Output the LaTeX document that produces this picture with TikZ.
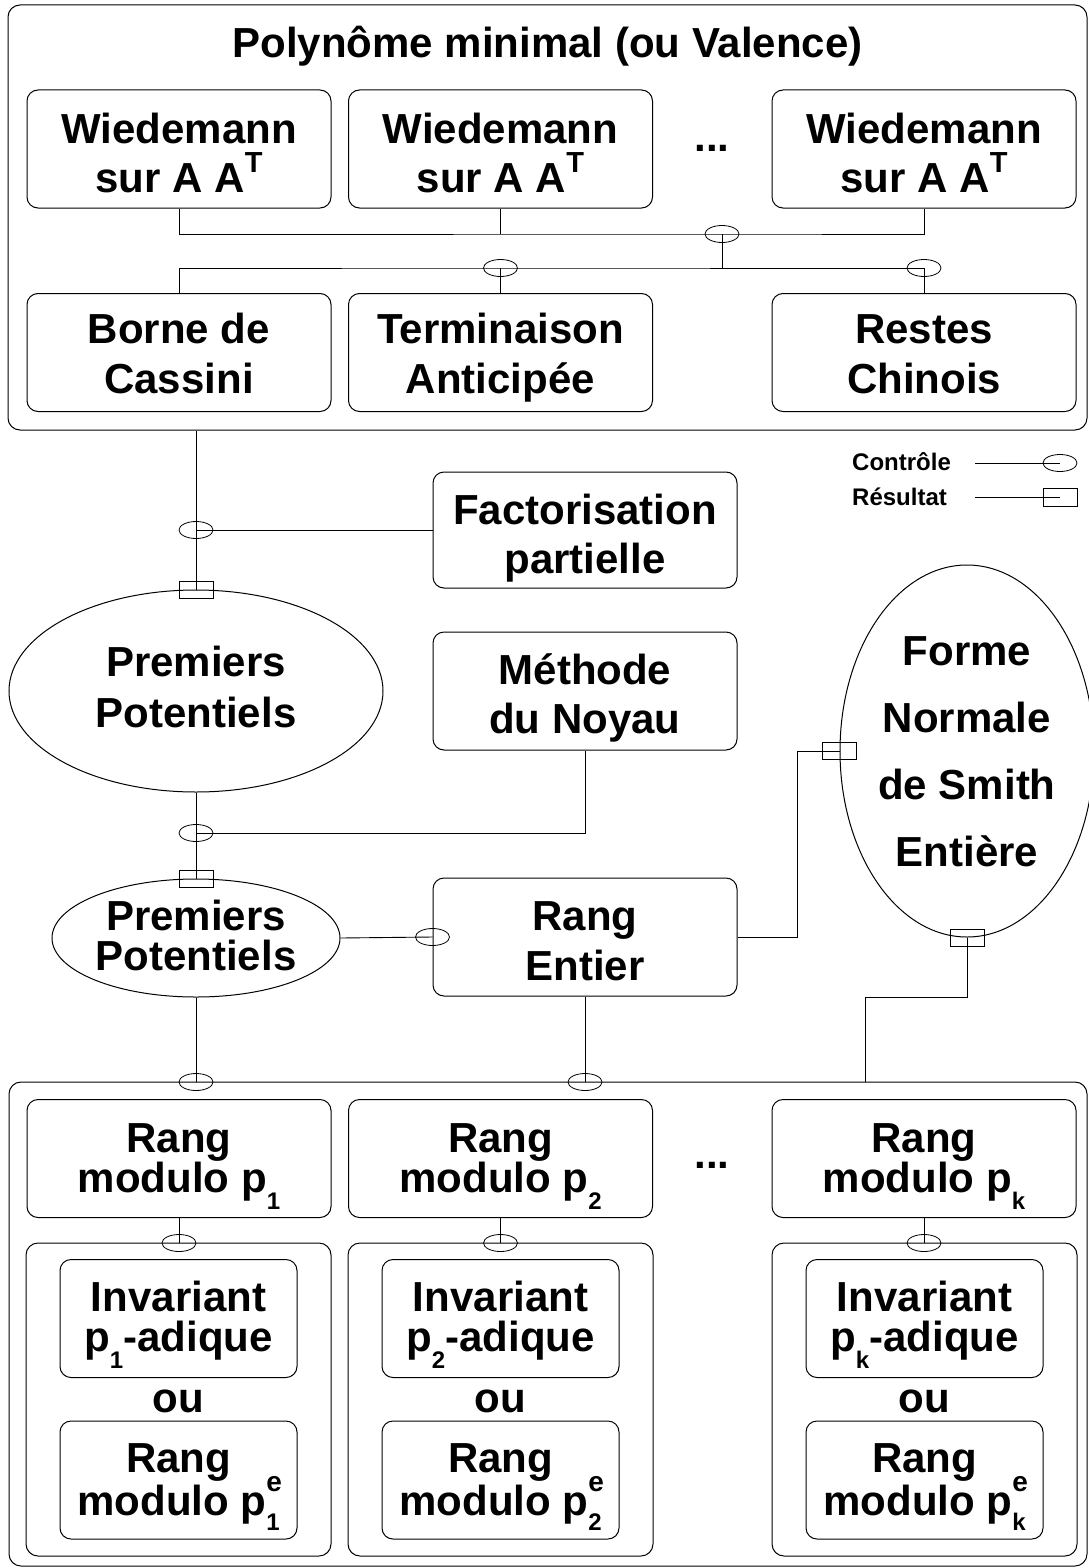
\documentclass[tikz,border=0pt]{standalone}
\usepackage{fontspec}
\setmainfont{Liberation Sans}
\usetikzlibrary{shapes.geometric}
\newcommand\topst{\rule{0pt}{45pt}}
\newcommand\botst{\rule[-45pt]{0pt}{45pt}}
\newcommand\subl[1]{\raisebox{-17pt}{\fontsize{24pt}{24pt}\selectfont #1}}
\newcommand\supT[1]{\raisebox{20pt}{\fontsize{29pt}{29pt}\selectfont #1}}
\newcommand\supsub[2]{\rlap{\raisebox{24pt}{\fontsize{28pt}{28pt}\selectfont #1}}\raisebox{-15pt}{\fontsize{24pt}{24pt}\selectfont #2}}
\newcommand\labfont[1]{\bfseries\fontsize{42pt}{#1pt}\selectfont\lineskiplimit=-200pt\relax}
\tikzset{
  cont/.style={draw, rounded corners=12pt, line width=1pt, inner sep=0pt},
  box/.style={draw, rounded corners=11pt, line width=1pt, inner sep=0pt, minimum width=304pt, minimum height=118pt},
  ibox/.style={box, minimum width=237pt, minimum height=118pt},
  oval/.style={draw, ellipse, line width=1pt, inner sep=0pt},
  ctrl/.style={draw, ellipse, minimum width=34pt, minimum height=17pt, inner sep=0pt, line width=0.8pt},
  res/.style={draw, rectangle, minimum width=34pt, minimum height=17pt, inner sep=0pt, line width=0.8pt},
  lab/.style={inner sep=0pt, align=center, font=\labfont{#1}},
  leg/.style={inner sep=0pt, anchor=base west, font=\bfseries\fontsize{24pt}{28pt}\selectfont},
  conn/.style={line width=0.9pt}
}
\begin{document}
\begin{tikzpicture}[x=1pt,y=-1pt]
\useasboundingbox (0,0) rectangle (1089,1568);

% containers
\node[cont, minimum width=1079pt, minimum height=425pt] (topc) at (547.5,217.5) {};
\node[cont, minimum width=1078pt, minimum height=484pt] (botc) at (548,1324) {};
\node[cont, minimum width=305pt, minimum height=313pt] (ic1) at (178.5,1399.5) {};
\node[cont, minimum width=305pt, minimum height=313pt] (ic2) at (500.5,1399.5) {};
\node[cont, minimum width=305pt, minimum height=313pt] (ic3) at (924.5,1399.5) {};

% title
\node[lab=42, anchor=base] (title) at (547.5,58) {Polynôme minimal (ou Valence)};

% Wiedemann row
\node[box] (w1) at (179,149) {};
\node[box] (w2) at (500.5,149) {};
\node[box] (w3) at (924,149) {};
\node[lab=49] (w1t) at (179,167.5) {\topst Wiedemann\\sur A A\supT{T}\botst};
\node[lab=49] (w2t) at (500.5,167.5) {\topst Wiedemann\\sur A A\supT{T}\botst};
\node[lab=49] (w3t) at (924,167.5) {\topst Wiedemann\\sur A A\supT{T}\botst};
\node[lab=42, anchor=base] (d1) at (712,151) {...};

% second row
\node[box] (b1) at (179,352.5) {};
\node[box] (b2) at (500.5,352.5) {};
\node[box] (b3) at (924,352.5) {};
\node[lab=50] (b1t) at (179,368) {\topst Borne de\\Cassini\botst};
\node[lab=50] (b2t) at (500.5,368) {\topst Terminaison\\Anticipée\botst};
\node[lab=50] (b3t) at (924,368) {\topst Restes\\Chinois\botst};

% top connectors
\node[ctrl] (c1) at (722,234) {};
\node[ctrl] (c2) at (500.5,268) {};
\node[ctrl] (c3) at (924,268) {};
\draw[conn] (w1.south) |- (c1.center) -| (w3.south);
\draw[conn] (w2.south) -- (w2.south |- c1.center);
\draw[conn] (c1.center) -- (c1.center |- c2.center);
\draw[conn] (b1.north) |- (c2.center) -- (c3.center) -- (b3.north);
\draw[conn] (c2.center) -- (b2.north);

% legend
\node[leg] (lgc) at (852,470) {Contrôle};
\node[leg] (lgr) at (852,505) {Résultat};
\node[ctrl] (lc) at (1060,463) {};
\node[res, minimum height=18pt] (lr) at (1060,497) {};
\coordinate (lc0) at (975,463);
\coordinate (lr0) at (975,497);
\draw[conn] (lc0) -- (lc.center);
\draw[conn] (lr0) -- (lr.center);

% middle
\node[box, minimum height=116pt] (fac) at (585,530) {};
\node[lab=49] (fact) at (585,548.5) {\topst Factorisation\\partielle\botst};
\node[oval, minimum width=374pt, minimum height=202pt] (pp1) at (196,691) {};
\node[lab=51] (pp1t) at (196,701.5) {\topst Premiers\\Potentiels\botst};
\node[box] (meth) at (585,691) {};
\node[lab=49] (metht) at (585,708.5) {\topst Méthode\\du Noyau\botst};
\node[oval, minimum width=288pt, minimum height=118pt] (pp2) at (196,938) {};
\node[lab=40] (pp2t) at (196,950) {\topst Premiers\\Potentiels\botst};
\node[box] (re) at (585,937) {};
\node[lab=50] (ret) at (585,955) {\topst Rang\\Entier\botst};
\node[oval, minimum width=254pt, minimum height=372pt] (fn) at (967,751) {};
\node[lab=67] (fnt) at (967,766) {\topst Forme\\Normale\\de Smith\\Entière\botst};

\node[ctrl] (c4) at (196,530) {};
\node[ctrl] (c5) at (196,833) {};
\node[ctrl] (c6) at (re.west) {};
\node[res] (r1) at (pp1.north) {};
\node[res] (r2) at (pp2.north) {};
\node[res] (r3) at (fn.west) {};
\node[res] (r4) at (fn.south) {};
\coordinate (k2) at (865,1082);

\draw[conn] (topc.south -| pp1.north) -- (pp1.north);
\draw[conn] (c4.center) -- (fac.west);
\draw[conn] (meth.south) |- (c5.center);
\draw[conn] (pp1.south) -- (pp2.north);
\draw[conn] (pp2.east) -- (re.west);
\draw[conn] (re.east) -- ++(60,0) |- (fn.west);
\draw[conn] (fn.south) -- ++(0,60) -| (k2);

% bottom
\node[ctrl] (c7) at (196,1082) {};
\node[ctrl] (c8) at (585,1082) {};
\draw[conn] (pp2.south) -- (c7.center);
\draw[conn] (re.south) -- (c8.center);

\node[box] (rm1) at (179,1158.5) {};
\node[box] (rm2) at (500.5,1158.5) {};
\node[box] (rm3) at (924,1158.5) {};
\node[lab=40] (rm1t) at (179,1172) {\topst Rang\\modulo p\subl{1}\botst};
\node[lab=40] (rm2t) at (500.5,1172) {\topst Rang\\modulo p\subl{2}\botst};
\node[lab=40] (rm3t) at (924,1172) {\topst Rang\\modulo p\subl{k}\botst};
\node[lab=42, anchor=base] (d2) at (712,1168) {...};

\node[ctrl] (c9) at (179,1243) {};
\node[ctrl] (c10) at (500.5,1243) {};
\node[ctrl] (c11) at (924,1243) {};
\draw[conn] (rm1.south) -- (c9.center);
\draw[conn] (rm2.south) -- (c10.center);
\draw[conn] (rm3.south) -- (c11.center);

\node[ibox] (iv1) at (178.5,1318.5) {};
\node[ibox] (iv2) at (500.5,1318.5) {};
\node[ibox] (iv3) at (924.5,1318.5) {};
\node[lab=40] (iv1t) at (178.5,1331.5) {\topst Invariant\\p\subl{1}-adique\botst};
\node[lab=40] (iv2t) at (500.5,1331.5) {\topst Invariant\\p\subl{2}-adique\botst};
\node[lab=40] (iv3t) at (924.5,1331.5) {\topst Invariant\\p\subl{k}-adique\botst};
\node[lab=42, anchor=base] (ou1) at (178.5,1412) {ou};
\node[lab=42, anchor=base] (ou2) at (500.5,1412) {ou};
\node[lab=42, anchor=base] (ou3) at (924.5,1412) {ou};
\node[ibox] (rk1) at (178.5,1480) {};
\node[ibox] (rk2) at (500.5,1480) {};
\node[ibox] (rk3) at (924.5,1480) {};
\node[lab=43] (rk1t) at (178.5,1493.5) {\topst Rang\\modulo p\supsub{e}{1}\botst};
\node[lab=43] (rk2t) at (500.5,1493.5) {\topst Rang\\modulo p\supsub{e}{2}\botst};
\node[lab=43] (rk3t) at (924.5,1493.5) {\topst Rang\\modulo p\supsub{e}{k}\botst};
\end{tikzpicture}
\end{document}
